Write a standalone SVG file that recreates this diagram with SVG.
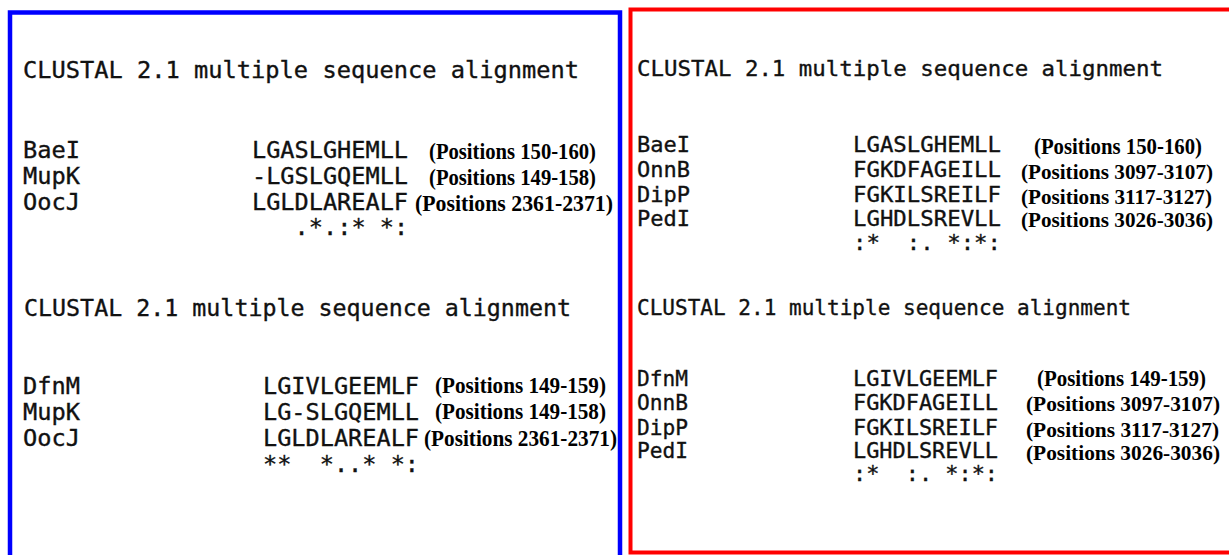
<svg xmlns="http://www.w3.org/2000/svg" width="1229" height="555" viewBox="0 0 1229 555">
<style>
.m{font-family:"DejaVu Sans Mono","Liberation Mono",monospace;fill:#111;stroke:#111;stroke-width:0.35;white-space:pre}
.l{font-size:23px}
.r{font-size:22px}
.r2{font-size:21.5px}
.p{font-family:"Liberation Serif","Times New Roman",serif;font-weight:bold;font-size:23px;fill:#000}
.pw{font-size:21.8px}
.frame{fill:none}
</style>
<rect width="1229" height="555" fill="#fff"/>
<g id="frames">
<path class="frame" d="M10,560 V12.5 H620 V560" stroke="#0000ff" stroke-width="4.5"/>
<path class="frame" d="M1240,9.5 H630.5 V552.5 H1240" stroke="#ff0000" stroke-width="4"/>
</g>
<g id="left-top">
<text class="m l" x="23" y="78" textLength="556" lengthAdjust="spacingAndGlyphs">CLUSTAL 2.1 multiple sequence alignment</text>
<text class="m l" x="23" y="158" textLength="57" lengthAdjust="spacingAndGlyphs">BaeI</text>
<text class="m l" x="23" y="184" textLength="57" lengthAdjust="spacingAndGlyphs">MupK</text>
<text class="m l" x="23" y="210" textLength="57" lengthAdjust="spacingAndGlyphs">OocJ</text>
<text class="m l" x="252" y="158" textLength="156" lengthAdjust="spacingAndGlyphs">LGASLGHEMLL</text>
<text class="m l" x="252" y="184" textLength="156" lengthAdjust="spacingAndGlyphs">-LGSLGQEMLL</text>
<text class="m l" x="252" y="210" textLength="156" lengthAdjust="spacingAndGlyphs">LGLDLAREALF</text>
<text class="m l" x="294.6" y="235" textLength="113.6" lengthAdjust="spacingAndGlyphs" xml:space="preserve">.*.:* *:</text>
<text class="p" x="429" y="159" textLength="167" lengthAdjust="spacingAndGlyphs">(Positions 150-160)</text>
<text class="p" x="429" y="185" textLength="167" lengthAdjust="spacingAndGlyphs">(Positions 149-158)</text>
<text class="p" x="415" y="211" textLength="198" lengthAdjust="spacingAndGlyphs">(Positions 2361-2371)</text>
</g>
<g id="left-bottom">
<text class="m l" x="24" y="316" textLength="547" lengthAdjust="spacingAndGlyphs">CLUSTAL 2.1 multiple sequence alignment</text>
<text class="m l" x="23" y="394" textLength="57" lengthAdjust="spacingAndGlyphs">DfnM</text>
<text class="m l" x="23" y="420" textLength="57" lengthAdjust="spacingAndGlyphs">MupK</text>
<text class="m l" x="23" y="446" textLength="57" lengthAdjust="spacingAndGlyphs">OocJ</text>
<text class="m l" x="263" y="394" textLength="156" lengthAdjust="spacingAndGlyphs">LGIVLGEEMLF</text>
<text class="m l" x="263" y="420" textLength="156" lengthAdjust="spacingAndGlyphs">LG-SLGQEMLL</text>
<text class="m l" x="263" y="446" textLength="156" lengthAdjust="spacingAndGlyphs">LGLDLAREALF</text>
<text class="m l" x="263" y="472" textLength="156" lengthAdjust="spacingAndGlyphs" xml:space="preserve">**  *..* *:</text>
<text class="p" x="435" y="393" textLength="171" lengthAdjust="spacingAndGlyphs">(Positions 149-159)</text>
<text class="p" x="435" y="419" textLength="171" lengthAdjust="spacingAndGlyphs">(Positions 149-158)</text>
<text class="p" x="424" y="446" textLength="193" lengthAdjust="spacingAndGlyphs">(Positions 2361-2371)</text>
</g>
<g id="right-top">
<text class="m r" x="637" y="76" textLength="526" lengthAdjust="spacingAndGlyphs">CLUSTAL 2.1 multiple sequence alignment</text>
<text class="m r" x="637" y="152" textLength="53" lengthAdjust="spacingAndGlyphs">BaeI</text>
<text class="m r" x="637" y="177" textLength="53" lengthAdjust="spacingAndGlyphs">OnnB</text>
<text class="m r" x="637" y="202" textLength="53" lengthAdjust="spacingAndGlyphs">DipP</text>
<text class="m r" x="637" y="226" textLength="53" lengthAdjust="spacingAndGlyphs">PedI</text>
<text class="m r" x="853" y="152" textLength="148" lengthAdjust="spacingAndGlyphs">LGASLGHEMLL</text>
<text class="m r" x="853" y="177" textLength="148" lengthAdjust="spacingAndGlyphs">FGKDFAGEILL</text>
<text class="m r" x="853" y="202" textLength="148" lengthAdjust="spacingAndGlyphs">FGKILSREILF</text>
<text class="m r" x="853" y="226" textLength="148" lengthAdjust="spacingAndGlyphs">LGHDLSREVLL</text>
<text class="m r" x="853" y="250" textLength="148" lengthAdjust="spacingAndGlyphs" xml:space="preserve">:*  :. *:*:</text>
<text class="p" x="1034" y="154" textLength="168" lengthAdjust="spacingAndGlyphs">(Positions 150-160)</text>
<text class="p pw" x="1021" y="179" textLength="192" lengthAdjust="spacingAndGlyphs">(Positions 3097-3107)</text>
<text class="p pw" x="1021" y="204" textLength="191" lengthAdjust="spacingAndGlyphs">(Positions 3117-3127)</text>
<text class="p pw" x="1021" y="227" textLength="192" lengthAdjust="spacingAndGlyphs">(Positions 3026-3036)</text>
</g>
<g id="right-bottom">
<text class="m r2" x="637" y="315" textLength="494" lengthAdjust="spacingAndGlyphs">CLUSTAL 2.1 multiple sequence alignment</text>
<text class="m r2" x="637" y="386" textLength="51" lengthAdjust="spacingAndGlyphs">DfnM</text>
<text class="m r2" x="637" y="410" textLength="51" lengthAdjust="spacingAndGlyphs">OnnB</text>
<text class="m r2" x="637" y="435" textLength="51" lengthAdjust="spacingAndGlyphs">DipP</text>
<text class="m r2" x="637" y="458" textLength="51" lengthAdjust="spacingAndGlyphs">PedI</text>
<text class="m r2" x="853" y="386" textLength="145" lengthAdjust="spacingAndGlyphs">LGIVLGEEMLF</text>
<text class="m r2" x="853" y="410" textLength="145" lengthAdjust="spacingAndGlyphs">FGKDFAGEILL</text>
<text class="m r2" x="853" y="435" textLength="145" lengthAdjust="spacingAndGlyphs">FGKILSREILF</text>
<text class="m r2" x="853" y="458" textLength="145" lengthAdjust="spacingAndGlyphs">LGHDLSREVLL</text>
<text class="m r2" x="853" y="481" textLength="145" lengthAdjust="spacingAndGlyphs" xml:space="preserve">:*  :. *:*:</text>
<text class="p" x="1037" y="386" textLength="169" lengthAdjust="spacingAndGlyphs">(Positions 149-159)</text>
<text class="p pw" x="1026" y="411" textLength="194" lengthAdjust="spacingAndGlyphs">(Positions 3097-3107)</text>
<text class="p pw" x="1026" y="437" textLength="193" lengthAdjust="spacingAndGlyphs">(Positions 3117-3127)</text>
<text class="p pw" x="1026" y="460" textLength="194" lengthAdjust="spacingAndGlyphs">(Positions 3026-3036)</text>
</g>
</svg>
